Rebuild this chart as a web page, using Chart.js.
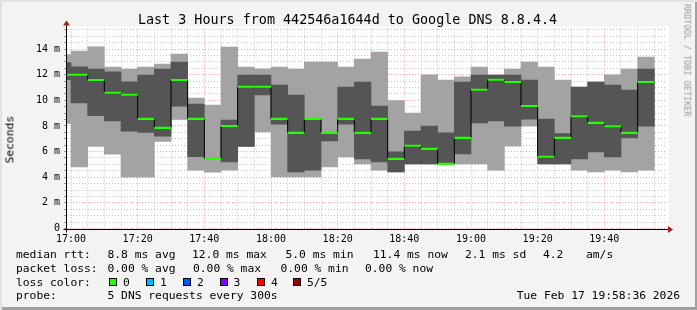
<!DOCTYPE html>
<html>
<head>
<meta charset="utf-8">
<script src="https://cdn.jsdelivr.net/npm/chart.js@4.4.1/dist/chart.umd.min.js"></script>
<style>
  html, body { margin: 0; padding: 0; background: #f3f3f3; }
  #wrap {
    position: relative; width: 697px; height: 310px; overflow: hidden;
    background: #f3f3f3;
    box-shadow: inset 2px 2px 0 #e2e2e2, inset -2px -3px 0 #a0a0a0;
  }
  #rttChart { position: absolute; left: 0; top: 0; }
  .t { position: absolute; white-space: pre; font-family: "DejaVu Sans Mono", monospace; color: #000; }
  .sw { position: absolute; width: 6px; height: 6px; border: 1px solid #000; }
</style>
</head>
<body>
<div id="wrap">
  <canvas id="rttChart" width="697" height="310"></canvas>
</div>
<script>
// 5 minute slots, minutes after 17:00 (first one is cut off by the left edge)
const slotStart = [-5, 0, 5, 10, 15, 20, 25, 30, 35, 40, 45, 50, 55, 60, 65, 70, 75, 80,
                   85, 90, 95, 100, 105, 110, 115, 120, 125, 130, 135, 140, 145, 150, 155, 160, 165, 170];
const slotLength = 5;

// smoke: outer band (min..max ping), inner band, median - all in ms
const lightLo = [8.2, 4.8, 6.4, 5.8, 4.0, 4.0, 6.8, 8.5, 4.55, 4.4, 4.55, 6.4, 7.54, 4.03, 4.03, 4.03, 4.81, 5.59,
                 5.04, 4.55, 4.42, 5.04, 5.04, 5.04, 5.04, 5.04, 4.55, 6.42, 7.98, 5.04, 5.04, 4.55, 4.42, 4.55, 4.42, 4.55];
const lightHi = [13.57, 13.84, 14.18, 12.59, 12.43, 12.59, 12.82, 13.61, 10.17, 9.62, 14.15, 12.59, 12.46, 12.59, 12.43, 12.98, 12.98, 12.59,
                 13.22, 13.76, 9.97, 9.0, 11.99, 11.58, 11.84, 12.59, 11.97, 12.43, 12.98, 12.59, 11.58, 11.03, 11.42, 11.99, 12.43, 13.37];
const darkLo = [11.6, 9.8, 8.8, 8.4, 7.6, 7.5, 7.2, 9.55, 5.6, 5.42, 5.2, 6.4, 10.41, 8.14, 4.42, 4.55, 6.83, 8.14,
                5.43, 5.2, 4.42, 5.04, 5.04, 5.04, 5.82, 8.24, 8.4, 7.98, 8.53, 5.04, 5.04, 5.43, 5.98, 5.59, 7.07, 7.98];
const darkHi = [12.94, 12.62, 12.43, 12.23, 11.45, 11.97, 12.43, 12.98, 9.7, 5.42, 8.45, 11.97, 11.97, 11.18, 10.41, 8.55, 7.5, 11.03,
                11.42, 9.55, 5.98, 7.59, 7.98, 7.46, 11.42, 11.97, 11.97, 11.97, 11.58, 8.53, 7.4, 11.03, 11.42, 11.18, 10.79, 12.43];
const median = [12.0, 12.0, 11.58, 10.59, 10.43, 8.55, 7.85, 11.58, 8.55, 5.42, 7.99, 11.06, 11.06, 8.55, 7.46, 8.55, 7.46, 8.55,
                7.46, 8.55, 5.43, 6.45, 6.21, 5.04, 7.07, 10.82, 11.61, 11.42, 9.55, 5.59, 7.07, 8.76, 8.24, 7.98, 7.46, 11.42];

const xTickMinutes = [0, 20, 40, 60, 80, 100, 120, 140, 160];
const xTickLabels = ['17:00', '17:20', '17:40', '18:00', '18:20', '18:40', '19:00', '19:20', '19:40'];
const yTickValues = [0, 2, 4, 6, 8, 10, 12, 14];
const yTickLabels = ['0', '2 m', '4 m', '6 m', '8 m', '10 m', '12 m', '14 m'];

const xMin = -1.2, xMax = 178.8;
const yMax = 15.6;

const lossColors = ['#26ff00', '#00b8ff', '#0059ff', '#7e00ff', '#ff0000', '#a00000'];
const lossLabels = ['0', '1', '2', '3', '4', '5/5'];

// minor grid every 5 min / 0.5 ms
const xGrid = [];
for (let m = 0; m <= 175; m += 5) xGrid.push(m);
const yGrid = [];
for (let v = 0; v <= 15.5; v += 0.5) yGrid.push(v);

const majorRed = 'rgba(235, 90, 90, 0.55)';
const minorGray = 'rgba(170, 170, 170, 0.7)';

const mid = (i) => slotStart[i] + slotLength / 2;

const plotBg = {
  id: 'plotBg',
  beforeDraw(chart) {
    const { ctx, chartArea: a } = chart;
    ctx.save();
    ctx.fillStyle = '#ffffff';
    ctx.fillRect(a.left, a.top - 2, a.right - a.left + 2, a.bottom - a.top + 2);
    ctx.restore();
  }
};

const axisArrows = {
  id: 'axisArrows',
  afterDraw(chart) {
    const { ctx, chartArea: a } = chart;
    const x0 = Math.round(a.left) - 0.5;
    const y0 = Math.round(a.bottom) - 0.5 + 1;
    ctx.save();
    ctx.strokeStyle = '#000';
    ctx.lineWidth = 1;
    ctx.beginPath();
    ctx.moveTo(x0, y0 + 3);
    ctx.lineTo(x0, a.top - 3);
    ctx.moveTo(x0 - 3, y0);
    ctx.lineTo(a.right + 1, y0);
    ctx.stroke();
    ctx.fillStyle = '#a02020';
    ctx.beginPath();
    ctx.moveTo(x0, a.top - 8);
    ctx.lineTo(x0 - 3.5, a.top - 3);
    ctx.lineTo(x0 + 3.5, a.top - 3);
    ctx.closePath();
    ctx.fill();
    ctx.beginPath();
    ctx.moveTo(a.right + 6, y0);
    ctx.lineTo(a.right + 1, y0 - 3.5);
    ctx.lineTo(a.right + 1, y0 + 3.5);
    ctx.closePath();
    ctx.fill();
    ctx.restore();
  }
};

// median as a step line: horizontal across each slot, vertical at the boundaries
const stepLine = slotStart.map((m, i) => ({ x: m, y: median[i] }));
stepLine.push({ x: slotStart[slotStart.length - 1] + slotLength, y: median[median.length - 1] });

const ctx = document.getElementById('rttChart').getContext('2d');
const rttChart = new Chart(ctx, {
  type: 'bar',
  data: {
    datasets: [
      {
        label: 'median',
        order: 0,
        data: median.map((v, i) => ({ x: mid(i), y: [v - 0.08, v + 0.08] })),
        backgroundColor: '#26ff00',
        grouped: false,
        barPercentage: 1,
        categoryPercentage: 1,
        inflateAmount: 0
      },
      {
        type: 'line',
        label: 'steps',
        order: 1,
        data: stepLine,
        stepped: 'before',
        borderColor: '#000000',
        borderWidth: 1,
        pointRadius: 0,
        fill: false
      },
      {
        label: 'inner',
        order: 2,
        data: darkLo.map((v, i) => ({ x: mid(i), y: [v, darkHi[i]] })),
        backgroundColor: '#555555',
        grouped: false,
        barPercentage: 1,
        categoryPercentage: 1
      },
      {
        label: 'outer',
        order: 3,
        data: lightLo.map((v, i) => ({ x: mid(i), y: [v, lightHi[i]] })),
        backgroundColor: '#a3a3a3',
        grouped: false,
        barPercentage: 1,
        categoryPercentage: 1
      }
    ]
  },
  options: {
    responsive: false,
    animation: false,
    devicePixelRatio: 1,
    layout: { padding: { left: 0, right: 30, top: 28.5, bottom: 61.5 } },
    plugins: { legend: { display: false }, tooltip: { enabled: false } },
    scales: {
      x: {
        type: 'linear',
        min: xMin,
        max: xMax,
        offset: false,
        z: 1,
        afterBuildTicks: (s) => { s.ticks = xGrid.map(v => ({ value: v })); },
        afterFit: (s) => { s.height = 20; },
        grid: {
          offset: false,
          drawTicks: false,
          color: (c) => (c.tick && c.tick.value % 20 === 0) ? majorRed : minorGray
        },
        border: { display: false, dash: [1, 2] },
        ticks: {
          autoSkip: false,
          maxRotation: 0,
          padding: 5,
          color: '#000',
          font: { family: 'DejaVu Sans Mono', size: 10 },
          callback: (v) => {
            const k = xTickMinutes.indexOf(v);
            return k >= 0 ? xTickLabels[k] : '';
          }
        }
      },
      y: {
        min: 0,
        max: yMax,
        z: 1,
        afterBuildTicks: (s) => { s.ticks = yGrid.map(v => ({ value: v })); },
        afterFit: (s) => { s.width = 67; },
        grid: {
          drawTicks: true,
          tickLength: 3,
          tickColor: '#9a9a9a',
          color: (c) => (c.tick && c.tick.value % 2 === 0) ? majorRed : minorGray
        },
        border: { display: false, dash: [1, 2] },
        ticks: {
          autoSkip: false,
          padding: 4,
          color: '#000',
          font: { family: 'DejaVu Sans Mono', size: 10 },
          callback: (v) => {
            const k = yTickValues.indexOf(v);
            return k >= 0 ? yTickLabels[k] : '';
          }
        }
      }
    }
  },
  plugins: [plotBg, axisArrows]
});

// text around the plot
const wrap = document.getElementById('wrap');
function putText(txt, x, base, size, extra) {
  const el = document.createElement('div');
  el.className = 't';
  el.textContent = txt;
  el.style.fontSize = size + 'px';
  el.style.lineHeight = size + 'px';
  el.style.top = (base - 0.846 * size) + 'px';
  if (x !== null) el.style.left = x + 'px';
  Object.assign(el.style, extra || {});
  wrap.appendChild(el);
  return el;
}

putText('Last 3 Hours from 442546a1644d to Google DNS 8.8.4.4', 0, 24, 13.4, { width: '695px', textAlign: 'center' });

const lg = 11.3;
const rows = [258.3, 272.2, 286.1, 300];
putText('median rtt:', 16, rows[0], lg);
putText('8.8 ms avg', 107.5, rows[0], lg);
putText('12.0 ms max', 192, rows[0], lg);
putText('5.0 ms min', 285.5, rows[0], lg);
putText('11.4 ms now', 373, rows[0], lg);
putText('2.1 ms sd', 465, rows[0], lg);
putText('4.2', 543, rows[0], lg);
putText('am/s', 586, rows[0], lg);

putText('packet loss:', 16, rows[1], lg);
putText('0.00 % avg', 107.5, rows[1], lg);
putText('0.00 % max', 193, rows[1], lg);
putText('0.00 % min', 280.5, rows[1], lg);
putText('0.00 % now', 365, rows[1], lg);

putText('loss color:', 16, rows[2], lg);
const swatchX = [109, 146, 183, 219.5, 257, 293];
lossColors.forEach((c, i) => {
  const sw = document.createElement('div');
  sw.className = 'sw';
  sw.style.left = swatchX[i] + 'px';
  sw.style.top = (rows[2] - 8.2) + 'px';
  sw.style.background = c;
  wrap.appendChild(sw);
  putText(lossLabels[i], swatchX[i] + 14, rows[2], lg);
});

putText('probe:', 16, rows[3], lg);
putText('5 DNS requests every 300s', 107.5, rows[3], lg);
putText('Tue Feb 17 19:58:36 2026', null, rows[3], lg, { right: '17px' });

// rotated labels
putText('Seconds', 10 - 30, 140 + 0.846 * lg - lg / 2, lg, { width: '60px', textAlign: 'center', transform: 'rotate(-90deg)' });
putText('RRDTOOL / TOBI OETIKER', 687 - 60, 60 + 0.846 * 8.5 - 8.5 / 2, 8.5, { width: '120px', textAlign: 'center', transform: 'rotate(90deg)', color: '#9a9a9a' });
</script>
</body>
</html>
